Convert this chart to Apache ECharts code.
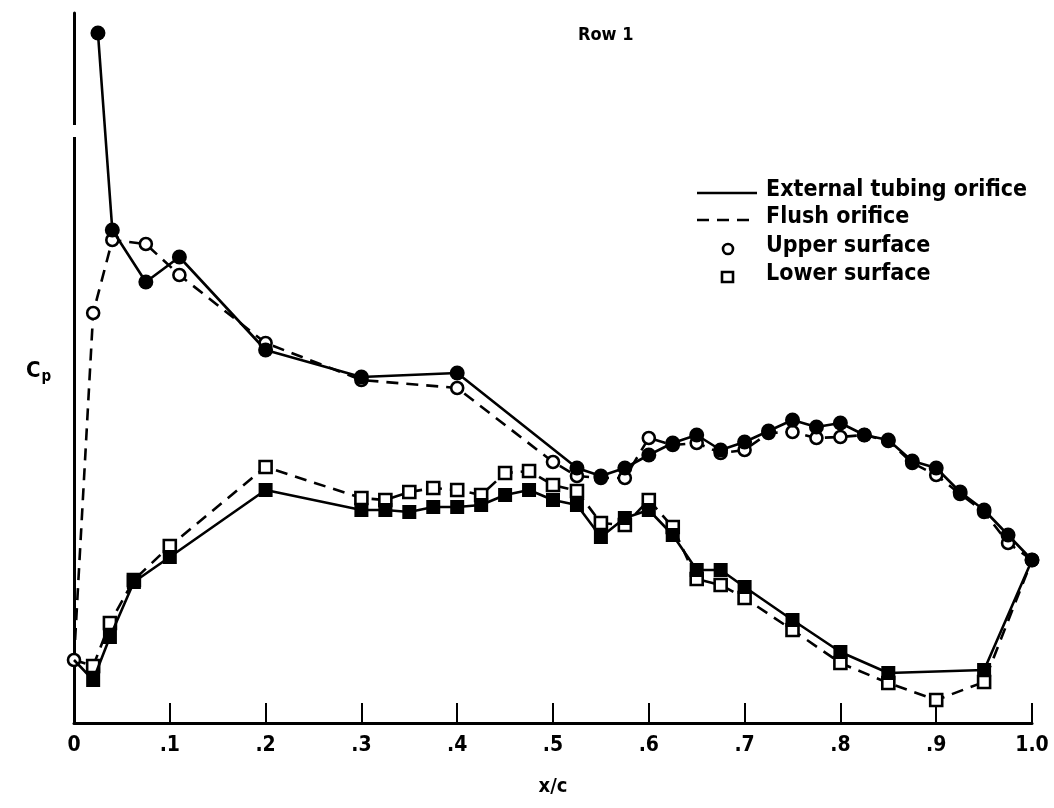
<!DOCTYPE html>
<html>
<head>
<meta charset="utf-8">
<script src="https://cdn.jsdelivr.net/npm/echarts@6/dist/echarts.min.js"></script>
<style>html,body{margin:0;padding:0;background:#fff;}#c{width:1054px;height:808px;}</style>
</head>
<body>
<div id="c"></div>
<script>
// x/c tick labels
const xTicks = [0, 0.1, 0.2, 0.3, 0.4, 0.5, 0.6, 0.7, 0.8, 0.9, 1.0];
const xTickLabels = ['0', '.1', '.2', '.3', '.4', '.5', '.6', '.7', '.8', '.9', '1.0'];

// Upper surface, external tubing orifice (solid line, filled circles)
const upperExtX = [0.025, 0.04, 0.075, 0.11, 0.2, 0.3, 0.4, 0.525, 0.55, 0.575, 0.6, 0.625, 0.65, 0.675, 0.7, 0.725, 0.75, 0.775, 0.8, 0.825, 0.85, 0.875, 0.9, 0.925, 0.95, 0.975, 1.0];
const upperExtCp = [6.90, 4.93, 4.41, 4.66, 3.73, 3.46, 3.50, 2.55, 2.47, 2.55, 2.68, 2.80, 2.88, 2.73, 2.81, 2.92, 3.03, 2.96, 3.00, 2.88, 2.83, 2.62, 2.55, 2.31, 2.13, 1.88, 1.63];

// Upper surface, flush orifice (dashed line, open circles)
const upperFlushX = [0, 0.02, 0.04, 0.075, 0.11, 0.2, 0.3, 0.4, 0.5, 0.525, 0.55, 0.575, 0.6, 0.625, 0.65, 0.675, 0.7, 0.725, 0.75, 0.775, 0.8, 0.825, 0.85, 0.875, 0.9, 0.925, 0.95, 0.975, 1.0];
const upperFlushCp = [0.63, 4.10, 4.83, 4.79, 4.48, 3.80, 3.43, 3.35, 2.61, 2.47, 2.45, 2.45, 2.85, 2.78, 2.80, 2.70, 2.73, 2.90, 2.91, 2.85, 2.86, 2.88, 2.82, 2.60, 2.48, 2.29, 2.11, 1.80, 1.63];

// Lower surface, external tubing orifice (solid line, filled squares)
const lowerExtX = [0, 0.02, 0.0375, 0.0625, 0.1, 0.2, 0.3, 0.325, 0.35, 0.375, 0.4, 0.425, 0.45, 0.475, 0.5, 0.525, 0.55, 0.575, 0.6, 0.625, 0.65, 0.675, 0.7, 0.75, 0.8, 0.85, 0.95, 1.0];
const lowerExtCp = [0.63, 0.43, 0.86, 1.41, 1.66, 2.33, 2.13, 2.13, 2.11, 2.16, 2.16, 2.18, 2.28, 2.33, 2.23, 2.18, 1.86, 2.05, 2.13, 1.88, 1.53, 1.53, 1.36, 1.03, 0.71, 0.50, 0.53, 1.63];

// Lower surface, flush orifice (dashed line, open squares)
const lowerFlushX = [0, 0.02, 0.0375, 0.0625, 0.1, 0.2, 0.3, 0.325, 0.35, 0.375, 0.4, 0.425, 0.45, 0.475, 0.5, 0.525, 0.55, 0.575, 0.6, 0.625, 0.65, 0.675, 0.7, 0.75, 0.8, 0.85, 0.9, 0.95, 1.0];
const lowerFlushCp = [0.63, 0.57, 1.00, 1.43, 1.77, 2.56, 2.25, 2.23, 2.31, 2.35, 2.33, 2.28, 2.50, 2.52, 2.38, 2.32, 2.00, 1.98, 2.23, 1.96, 1.44, 1.38, 1.25, 0.93, 0.60, 0.40, 0.23, 0.41, 1.63];

const FONT = "'Liberation Sans Narrow', 'DejaVu Sans Condensed', 'Liberation Sans', sans-serif";

function pts(xs, ys, hideEnds) {
  return xs.map((x, i) => {
    const item = { value: [x, ys[i]] };
    if (hideEnds && (x === 0 || x === 1.0)) item.symbol = 'none';
    return item;
  });
}

const chart = echarts.init(document.getElementById('c'), null, { renderer: 'canvas' });
const lineW = 2.6;
const option = {
  backgroundColor: '#fff',
  animation: false,
  title: {
    text: 'Row 1', left: 573, top: 21,
    textStyle: { fontFamily: FONT, fontWeight: 'bold', fontSize: 18, color: '#000' }
  },
  grid: { left: 74, right: 22, top: 13, bottom: 85 },
  xAxis: {
    type: 'value', min: 0, max: 1.0, interval: 0.1,
    axisLine: { show: true, onZero: false, lineStyle: { color: '#000', width: 3 } },
    axisTick: { show: true, inside: true, length: 20, lineStyle: { color: '#000', width: 2 } },
    splitLine: { show: false },
    axisLabel: {
      margin: 12, color: '#000', fontFamily: FONT, fontWeight: 'bold', fontSize: 21,
      formatter: function (v) {
        const i = xTicks.findIndex(t => Math.abs(t - v) < 1e-6);
        return i >= 0 ? xTickLabels[i] : '';
      }
    },
    name: 'x/c', nameLocation: 'middle', nameGap: 54,
    nameTextStyle: { color: '#000', fontFamily: FONT, fontWeight: 'bold', fontSize: 20 }
  },
  yAxis: {
    type: 'value', min: 0, max: 7.1,
    axisLine: { show: true, onZero: false, lineStyle: { color: '#000', width: 3 } },
    axisTick: { show: false }, axisLabel: { show: false }, splitLine: { show: false }
  },
  graphic: [
    { type: 'rect', shape: { x: 68, y: 125, width: 12, height: 12 }, style: { fill: '#fff' }, z: 100 },
    {
      type: 'text', left: 26, top: 360, z: 100,
      style: {
        text: '{a|C}{b|p}',
        rich: {
          a: { fontFamily: FONT, fontWeight: 'bold', fontSize: 22, fill: '#000' },
          b: { fontFamily: FONT, fontWeight: 'bold', fontSize: 15, fill: '#000', padding: [12, 0, 0, 1] }
        }
      }
    },
    // legend
    { type: 'line', shape: { x1: 697, y1: 193, x2: 757, y2: 193 }, style: { stroke: '#000', lineWidth: 2.6 }, z: 100 },
    { type: 'line', shape: { x1: 697, y1: 220, x2: 757, y2: 220 }, style: { stroke: '#000', lineWidth: 2.6, lineDash: [12, 8] }, z: 100 },
    { type: 'circle', shape: { cx: 728, cy: 249, r: 5 }, style: { stroke: '#000', fill: '#fff', lineWidth: 2.6 }, z: 100 },
    { type: 'rect', shape: { x: 722, y: 272, width: 11, height: 10 }, style: { stroke: '#000', fill: '#fff', lineWidth: 2.6 }, z: 100 },
    { type: 'text', left: 766, top: 179, z: 100, style: { text: 'External tubing orifice', fontFamily: FONT, fontWeight: 'bold', fontSize: 23, fill: '#000' } },
    { type: 'text', left: 766, top: 206, z: 100, style: { text: 'Flush orifice', fontFamily: FONT, fontWeight: 'bold', fontSize: 23, fill: '#000' } },
    { type: 'text', left: 766, top: 235, z: 100, style: { text: 'Upper surface', fontFamily: FONT, fontWeight: 'bold', fontSize: 23, fill: '#000' } },
    { type: 'text', left: 766, top: 263, z: 100, style: { text: 'Lower surface', fontFamily: FONT, fontWeight: 'bold', fontSize: 23, fill: '#000' } }
  ],
  series: [
    {
      name: 'Upper flush', type: 'line', data: pts(upperFlushX, upperFlushCp, false),
      symbol: 'circle', symbolSize: 12, showAllSymbol: true,
      lineStyle: { color: '#000', width: lineW, type: [12, 8] },
      itemStyle: { color: '#fff', borderColor: '#000', borderWidth: 2.6 }, z: 2
    },
    {
      name: 'Lower flush', type: 'line', data: pts(lowerFlushX, lowerFlushCp, true),
      symbol: 'rect', symbolSize: 12, showAllSymbol: true,
      lineStyle: { color: '#000', width: lineW, type: [12, 8] },
      itemStyle: { color: '#fff', borderColor: '#000', borderWidth: 2.6 }, z: 2
    },
    {
      name: 'Upper external', type: 'line', data: pts(upperExtX, upperExtCp, false),
      symbol: 'circle', symbolSize: 15, showAllSymbol: true,
      lineStyle: { color: '#000', width: lineW },
      itemStyle: { color: '#000' }, z: 3
    },
    {
      name: 'Lower external', type: 'line', data: pts(lowerExtX, lowerExtCp, true),
      symbol: 'rect', symbolSize: 14, showAllSymbol: true,
      lineStyle: { color: '#000', width: lineW },
      itemStyle: { color: '#000' }, z: 3
    }
  ]
};
chart.setOption(option);
</script>
</body>
</html>
